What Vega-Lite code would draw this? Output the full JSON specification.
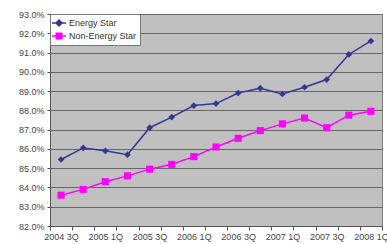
{
  "$schema": "https://vega.github.io/schema/vega-lite/v6.json",
  "autosize": "none",
  "width": 332,
  "height": 212,
  "padding": {"left": 50, "top": 14, "right": 5, "bottom": 18},
  "background": "white",
  "config": {
    "view": {"fill": "#c0c0c0", "stroke": "#808080", "strokeWidth": 1},
    "font": "Liberation Sans",
    "axis": {"labelFont": "Liberation Sans", "labelColor": "#444", "labelFontSize": 9, "domainColor": "#555", "tickColor": "#555", "title": null}
  },
  "data": {"values": [
    {"q": "2004 3Q", "s": "Energy Star", "v": 85.45},
    {"q": "2004 4Q", "s": "Energy Star", "v": 86.05},
    {"q": "2005 1Q", "s": "Energy Star", "v": 85.9},
    {"q": "2005 2Q", "s": "Energy Star", "v": 85.7},
    {"q": "2005 3Q", "s": "Energy Star", "v": 87.1},
    {"q": "2005 4Q", "s": "Energy Star", "v": 87.65},
    {"q": "2006 1Q", "s": "Energy Star", "v": 88.25},
    {"q": "2006 2Q", "s": "Energy Star", "v": 88.35},
    {"q": "2006 3Q", "s": "Energy Star", "v": 88.9},
    {"q": "2006 4Q", "s": "Energy Star", "v": 89.15},
    {"q": "2007 1Q", "s": "Energy Star", "v": 88.85},
    {"q": "2007 2Q", "s": "Energy Star", "v": 89.2},
    {"q": "2007 3Q", "s": "Energy Star", "v": 89.6},
    {"q": "2007 4Q", "s": "Energy Star", "v": 90.9},
    {"q": "2008 1Q", "s": "Energy Star", "v": 91.6},
    {"q": "2004 3Q", "s": "Non-Energy Star", "v": 83.6},
    {"q": "2004 4Q", "s": "Non-Energy Star", "v": 83.9},
    {"q": "2005 1Q", "s": "Non-Energy Star", "v": 84.3},
    {"q": "2005 2Q", "s": "Non-Energy Star", "v": 84.6},
    {"q": "2005 3Q", "s": "Non-Energy Star", "v": 84.95},
    {"q": "2005 4Q", "s": "Non-Energy Star", "v": 85.2},
    {"q": "2006 1Q", "s": "Non-Energy Star", "v": 85.6},
    {"q": "2006 2Q", "s": "Non-Energy Star", "v": 86.1},
    {"q": "2006 3Q", "s": "Non-Energy Star", "v": 86.55},
    {"q": "2006 4Q", "s": "Non-Energy Star", "v": 86.95},
    {"q": "2007 1Q", "s": "Non-Energy Star", "v": 87.3},
    {"q": "2007 2Q", "s": "Non-Energy Star", "v": 87.6},
    {"q": "2007 3Q", "s": "Non-Energy Star", "v": 87.1},
    {"q": "2007 4Q", "s": "Non-Energy Star", "v": 87.75},
    {"q": "2008 1Q", "s": "Non-Energy Star", "v": 87.95}
  ]},
  "encoding": {
    "x": {"field": "q", "type": "ordinal", "scale": {"paddingInner": 0, "paddingOuter": 0},
      "axis": {"labelAngle": 0, "tickBand": "extent", "tickSize": 4, "labelPadding": 2, "grid": false,
        "labelExpr": "test(/[13]Q$/, datum.value) ? datum.value : ''"}},
    "y": {"field": "v", "type": "quantitative", "scale": {"domain": [82, 93], "nice": false, "zero": false},
      "axis": {"values": [82, 83, 84, 85, 86, 87, 88, 89, 90, 91, 92, 93], "labelExpr": "format(datum.value, '.1f') + '%'",
        "gridColor": "#666666", "gridWidth": 1, "gridOpacity": 1, "tickSize": 3, "labelPadding": 3}},
    "color": {"field": "s", "type": "nominal", "scale": {"domain": ["Energy Star", "Non-Energy Star"], "range": ["#363692", "#ff00ff"]},
      "legend": {"orient": "none", "legendX": 0, "legendY": 0, "title": null, "fillColor": "white", "strokeColor": "#777",
        "padding": 3, "rowPadding": 1, "labelFontSize": 9, "labelColor": "#333", "labelFont": "Liberation Sans", "symbolSize": 100, "symbolStrokeWidth": 1.5,
        "symbolType": "M-1.4,0H1.4M0,-0.6L0.6,0L0,0.6L-0.6,0Z",
        "encode": {"symbols": {"update": {
          "shape": {"signal": "datum.value === 'Energy Star' ? 'M-1.4,0H1.4M0,-0.6L0.6,0L0,0.6L-0.6,0Z' : 'M-1.4,0H1.4M-0.55,-0.55H0.55V0.55H-0.55Z'"},
          "fill": {"signal": "datum.value === 'Energy Star' ? '#363692' : '#ff00ff'"},
          "stroke": {"signal": "datum.value === 'Energy Star' ? '#363692' : '#ff00ff'"},
          "fillOpacity": {"value": 1},
          "strokeWidth": {"value": 1.5}}}}}}
  },
  "layer": [
    {"mark": {"type": "line", "strokeWidth": 1.5}},
    {"transform": [{"filter": "datum.s === 'Energy Star'"}],
      "mark": {"type": "point", "filled": true, "opacity": 1, "shape": "diamond", "size": 45}},
    {"transform": [{"filter": "datum.s === 'Non-Energy Star'"}],
      "mark": {"type": "point", "filled": true, "opacity": 1, "shape": "square", "size": 50}}
  ]
}
